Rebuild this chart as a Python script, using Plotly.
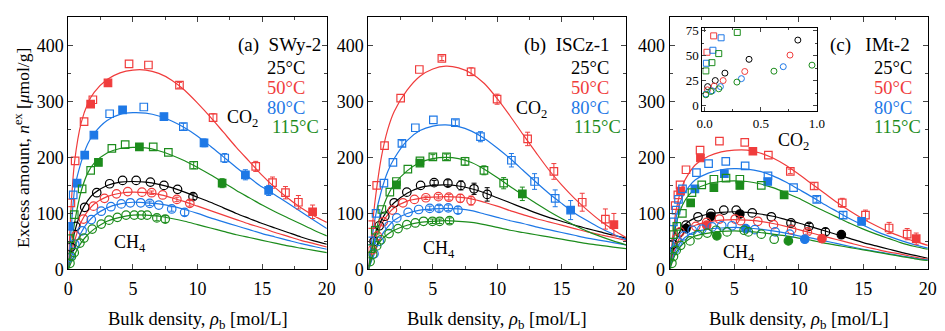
import plotly.graph_objects as go

FONT = "Liberation Serif"
COL = {"25": "#000000", "50": "#f03c3c", "80": "#1e78e6", "115": "#1c8c1c"}

# common density grid on which the fitted curves were read
GRID = [0, 0.25, 0.5, 1, 1.5, 2, 3, 4, 5, 6, 7, 8, 9, 10, 11, 12, 13, 14, 15, 16, 17, 18, 19, 20]

# ---------------- panel (a) SWy-2 : fitted curves ----------------
A_CO2_50_FIT = [0, 125, 195, 262, 296, 316, 339, 351, 356, 356, 350, 338, 320, 297, 272, 245, 218, 193, 168, 146, 127, 110, 96, 84]
A_CO2_80_FIT = [0, 80, 145, 192, 224, 243, 266, 277, 280, 279, 274, 265, 253, 238, 220, 201, 182, 164, 147, 133, 118, 103, 88, 73]
A_CO2_115_FIT = [0, 45, 85, 140, 172, 190, 208, 216, 218, 217, 212, 204, 194, 182, 169, 155, 141, 128, 115, 103, 92, 81, 70, 60]
A_CH4_25_FIT = [0, 40, 68, 103, 123, 136, 150, 156, 157, 156, 152, 146, 138, 129, 120, 110, 100, 91, 82, 74, 66, 58, 51, 45]
A_CH4_50_FIT = [0, 30, 52, 85, 104, 117, 130, 136, 138, 137, 134, 128, 121, 113, 105, 97, 89, 81, 74, 66, 59, 52, 46, 40]
A_CH4_80_FIT = [0, 22, 40, 66, 84, 96, 110, 117, 120, 119, 117, 113, 107, 100, 92, 85, 78, 71, 64, 58, 52, 46, 41, 36]
A_CH4_115_FIT = [0, 14, 27, 48, 62, 72, 86, 93, 97, 97, 95, 91, 86, 80, 74, 68, 62, 57, 52, 47, 42, 38, 34, 30]

# measured points: (density, excess, error, filled)
A_CO2_50_PTS = [(0.2, 119, 0, 0), (0.53, 194, 0, 0), (1.22, 264, 0, 0), (1.73, 295, 0, 1), (1.9, 303, 0, 0),
                (3.07, 333, 0, 1), (4.7, 367, 0, 0), (6.2, 365, 0, 0), (8.6, 329, 5, 0), (11.2, 271, 7, 0),
                (14.5, 184, 9, 0), (15.8, 155, 10, 0), (16.8, 137, 11, 0), (17.8, 120, 12, 0), (18.9, 103, 12, 1)]
A_CO2_80_PTS = [(0.08, 77, 0, 1), (0.38, 133, 0, 0), (0.68, 154, 0, 1), (1.27, 204, 0, 1), (1.98, 240, 0, 1),
                (3.2, 278, 0, 0), (4.2, 285, 0, 1), (5.84, 290, 0, 0), (7.4, 273, 4, 1), (8.9, 255, 6, 0),
                (10.5, 226, 7, 1), (12.1, 199, 8, 0), (13.7, 169, 9, 1), (15.5, 141, 9, 1)]
A_CO2_115_PTS = [(0.13, 55, 0, 0), (0.46, 98, 0, 0), (1.07, 144, 0, 0), (1.73, 177, 0, 0), (2.33, 191, 0, 1),
                 (3.37, 216, 0, 0), (4.4, 223, 0, 0), (5.5, 219, 0, 1), (6.57, 219, 0, 0), (7.74, 209, 0, 0),
                 (9.7, 186, 6, 0), (11.9, 154, 8, 1)]
A_CH4_25_PTS = [(0.2, 40, 0, 0), (0.58, 77, 0, 0), (1.27, 111, 0, 0), (2.2, 137, 0, 0), (3.2, 153, 0, 0),
                (4.2, 159, 0, 0), (5.25, 159, 0, 0), (6.35, 156, 0, 0), (7.4, 150, 0, 0), (8.45, 143, 0, 0),
                (9.65, 130, 5, 0)]
A_CH4_50_PTS = [(0.58, 60, 0, 0), (1.17, 90, 0, 0), (1.95, 113, 0, 0), (2.8, 127, 0, 0), (3.73, 135, 0, 0),
                (4.6, 139, 0, 0), (5.7, 138, 0, 0), (6.45, 137, 3, 0), (7.3, 133, 0, 0), (8.4, 125, 4, 0),
                (9.4, 118, 5, 0)]
A_CH4_80_PTS = [(0.13, 22, 0, 0), (0.5, 45, 0, 0), (1.07, 69, 0, 0), (1.78, 89, 0, 0), (2.55, 104, 0, 0),
                (3.3, 112, 0, 0), (4.1, 117, 0, 0), (4.8, 119, 0, 0), (5.6, 119, 0, 0), (6.3, 118, 4, 0),
                (7.0, 115, 0, 0), (8.0, 108, 4, 0), (9.0, 102, 6, 0)]
A_CH4_115_PTS = [(0.13, 11, 0, 0), (0.25, 23, 0, 0), (0.46, 30, 0, 0), (0.9, 47, 0, 0), (1.22, 56, 0, 0),
                 (1.85, 72, 0, 0), (2.55, 81, 0, 0), (3.15, 88, 0, 0), (3.8, 93, 0, 0), (4.47, 97, 0, 0),
                 (5.1, 97, 0, 0), (5.65, 97, 0, 0), (6.1, 97, 0, 0), (6.85, 92, 5, 0), (7.5, 90, 6, 0)]

# ---------------- panel (b) ISCz-1 ----------------
B_CO2_50_FIT = [0, 65, 120, 200, 250, 282, 320, 345, 358, 363, 360, 350, 332, 305, 274, 241, 209, 178, 151, 127, 106, 87, 71, 57]
B_CO2_80_FIT = [0, 50, 90, 140, 175, 198, 230, 248, 256, 258, 255, 247, 234, 217, 198, 177, 156, 136, 118, 101, 87, 74, 63, 53]
B_CO2_115_FIT = [0, 35, 62, 102, 132, 152, 176, 191, 198, 200, 198, 191, 179, 164, 148, 133, 118, 104, 91, 79, 68, 59, 51, 44]
B_CH4_25_FIT = [0, 35, 60, 88, 106, 119, 136, 146, 150, 151, 149, 144, 137, 128, 119, 110, 101, 93, 86, 79, 73, 67, 61, 56]
B_CH4_50_FIT = [0, 30, 52, 80, 98, 110, 122, 127, 129, 130, 129, 126, 120, 113, 105, 98, 91, 85, 79, 73, 67, 62, 57, 52]
B_CH4_80_FIT = [0, 16, 30, 60, 76, 88, 100, 106, 108, 109, 108, 105, 99, 93, 87, 82, 76, 71, 66, 61, 56, 52, 48, 44]
B_CH4_115_FIT = [0, 20, 35, 53, 63, 70, 79, 84, 86, 87, 86, 84, 80, 75, 70, 66, 62, 58, 54, 50, 46, 43, 40, 37]

B_CO2_50_PTS = [(0.2, 80, 0, 0), (0.64, 150, 0, 0), (1.25, 221, 0, 0), (2.5, 306, 0, 0), (3.95, 357, 0, 0),
                (5.7, 377, 4, 0), (7.97, 353, 7, 0), (9.99, 304, 9, 0), (12.36, 233, 12, 0), (14.4, 175, 14, 0),
                (16.6, 120, 16, 0), (18.4, 90, 18, 0), (19.06, 80, 20, 1)]
B_CO2_80_PTS = [(0.18, 51, 0, 0), (0.59, 100, 0, 0), (1.2, 154, 0, 0), (1.9, 191, 0, 0), (2.6, 225, 5, 0),
                (3.64, 253, 0, 0), (5.04, 267, 0, 0), (6.75, 262, 5, 0), (8.7, 237, 9, 0), (11.1, 195, 12, 0),
                (12.9, 157, 14, 0), (14.5, 127, 15, 0), (15.7, 106, 17, 1)]
B_CO2_115_PTS = [(0.18, 37, 0, 0), (0.53, 70, 0, 0), (1.04, 107, 0, 0), (1.66, 138, 0, 0), (2.17, 157, 0, 0),
                 (2.17, 151, 0, 1), (3.06, 179, 0, 0), (4.0, 194, 0, 0), (4.0, 190, 0, 1), (5.0, 201, 4, 0),
                 (6.06, 201, 5, 0), (7.5, 193, 7, 0), (8.97, 177, 8, 0), (10.5, 154, 10, 0), (11.95, 135, 12, 1)]
B_CH4_25_PTS = [(0.43, 50, 0, 0), (0.84, 78, 0, 0), (1.27, 95, 0, 0), (2.0, 119, 0, 0), (2.98, 138, 0, 0),
                (4.05, 150, 0, 0), (5.1, 155, 4, 0), (6.17, 154, 6, 0), (7.18, 150, 8, 0), (8.2, 144, 10, 0),
                (9.22, 134, 12, 0)]
B_CH4_50_PTS = [(0.3, 35, 0, 0), (0.69, 60, 0, 0), (1.15, 85, 0, 0), (1.86, 106, 0, 0), (2.68, 119, 0, 0),
                (3.57, 125, 0, 0), (4.46, 128, 3, 0), (5.43, 130, 4, 0), (6.24, 129, 5, 0), (7.13, 127, 7, 0),
                (7.97, 123, 8, 0)]
B_CH4_80_PTS = [(0.43, 28, 0, 0), (0.84, 50, 0, 0), (1.6, 78, 0, 0), (2.2, 92, 0, 0), (3.08, 102, 0, 0),
                (3.9, 107, 0, 0), (4.76, 109, 4, 0), (5.48, 109, 5, 0), (6.2, 110, 5, 0), (6.95, 106, 6, 0)]
B_CH4_115_PTS = [(0.13, 14, 0, 0), (0.33, 27, 0, 0), (0.64, 42, 0, 0), (0.97, 53, 0, 0), (1.6, 64, 0, 0),
                 (2.3, 73, 0, 0), (2.98, 80, 0, 0), (3.64, 83, 0, 0), (4.28, 86, 0, 0), (4.97, 86, 4, 0),
                 (5.53, 86, 4, 0), (6.3, 87, 5, 0)]

# ---------------- panel (c) IMt-2 ----------------
C_CO2_50_FIT = [0, 60, 105, 150, 172, 187, 202, 210, 213, 213, 208, 199, 186, 170, 153, 136, 119, 104, 90, 78, 67, 58, 50, 43]
C_CO2_80_FIT = [0, 50, 92, 130, 148, 160, 172, 178, 180, 179, 175, 167, 156, 143, 130, 116, 103, 90, 79, 68, 59, 51, 44, 38]
C_CO2_115_FIT = [0, 42, 80, 115, 133, 143, 153, 157, 158, 157, 153, 146, 137, 127, 115, 104, 93, 82, 72, 63, 55, 47, 41, 36]
C_CH4_25_FIT = [0, 30, 52, 75, 86, 92, 99, 102, 103, 102, 99, 95, 89, 83, 76, 69, 62, 55, 48, 42, 36, 30, 25, 20]
C_CH4_50_FIT = [0, 25, 44, 63, 73, 79, 85, 88, 89, 88, 86, 82, 77, 71, 65, 59, 53, 47, 41, 36, 31, 27, 22, 18]
C_CH4_80_FIT = [0, 20, 36, 53, 62, 67, 72, 74, 75, 74, 72, 69, 65, 60, 56, 51, 46, 41, 36, 32, 28, 24, 20, 17]
C_CH4_115_FIT = [0, 16, 30, 45, 54, 60, 65, 68, 69, 68, 66, 63, 60, 56, 52, 47, 43, 39, 35, 31, 27, 23, 19, 16]

C_CO2_50_PTS = [(0.43, 114, 0, 0), (0.64, 133, 0, 0), (0.81, 151, 0, 0), (0.85, 140, 0, 1), (1.27, 178, 0, 0),
                (2.36, 213, 0, 0), (2.39, 199, 0, 1), (3.86, 229, 0, 0), (5.82, 227, 0, 0), (6.45, 211, 0, 1),
                (7.65, 204, 0, 0), (9.35, 175, 4, 0), (11.2, 149, 6, 0), (13.37, 119, 8, 0), (15.17, 97, 9, 0),
                (17.0, 74, 10, 0), (18.4, 63, 10, 0), (19.1, 55, 10, 1)]
C_CO2_80_PTS = [(0.3, 85, 0, 0), (0.5, 106, 0, 0), (0.69, 125, 0, 0), (1.0, 144, 0, 0), (1.96, 144, 0, 1),
                (2.08, 173, 0, 0), (3.02, 189, 0, 0), (4.35, 193, 0, 0), (4.24, 171, 0, 1), (5.85, 185, 0, 0),
                (7.62, 167, 0, 0), (7.6, 157, 0, 1), (9.6, 146, 0, 0), (11.4, 125, 5, 0), (13.44, 97, 6, 0),
                (14.87, 86, 6, 1)]
C_CO2_115_PTS = [(0.3, 62, 0, 0), (0.56, 77, 0, 0), (0.99, 100, 0, 0), (1.63, 119, 0, 1), (1.73, 137, 0, 0),
                 (2.49, 151, 0, 0), (3.43, 146, 0, 1), (3.43, 161, 0, 0), (4.37, 163, 0, 0), (5.44, 150, 0, 1),
                 (5.44, 161, 0, 0), (7.1, 150, 0, 0), (8.87, 133, 4, 1)]
C_CH4_25_PTS = [(0.25, 45, 0, 0), (0.76, 66, 0, 0), (1.27, 79, 0, 0), (1.27, 73, 0, 1), (2.2, 94, 0, 0),
                (3.2, 95, 0, 1), (3.2, 100, 0, 0), (4.2, 106, 0, 0), (5.16, 106, 0, 0), (5.44, 99, 0, 1),
                (6.4, 101, 0, 0), (7.88, 94, 0, 0), (9.4, 83, 4, 0), (10.8, 77, 5, 0), (12.07, 67, 6, 0),
                (13.3, 62, 6, 1)]
C_CH4_50_PTS = [(0.56, 55, 0, 0), (0.81, 67, 0, 0), (2.03, 77, 0, 0), (2.87, 84, 0, 0), (2.87, 79, 0, 1),
                (3.86, 90, 0, 0), (5.08, 90, 0, 0), (5.5, 87, 0, 0), (6.83, 86, 0, 0), (8.05, 80, 0, 0),
                (9.45, 71, 0, 0), (10.67, 67, 4, 0), (11.8, 55, 6, 1)]
C_CH4_80_PTS = [(0.38, 35, 0, 0), (0.64, 49, 0, 0), (1.1, 60, 0, 0), (1.75, 70, 0, 0), (2.5, 72, 0, 0),
                (3.3, 76, 0, 0), (4.04, 78, 0, 0), (4.83, 78, 0, 0), (5.9, 73, 0, 1), (6.6, 71, 0, 0),
                (8.18, 67, 0, 0), (9.3, 63, 0, 0), (10.47, 54, 4, 1)]
C_CH4_115_PTS = [(0.18, 11, 0, 0), (0.3, 23, 0, 0), (0.51, 34, 0, 0), (0.86, 43, 0, 0), (1.58, 51, 0, 0),
                 (2.2, 62, 0, 0), (2.92, 65, 0, 0), (3.66, 60, 0, 1), (3.6, 70, 0, 0), (4.45, 67, 0, 0),
                 (5.77, 70, 0, 0), (6.1, 67, 0, 0), (7.1, 63, 0, 0), (8.1, 54, 0, 0), (9.2, 51, 4, 1)]

# ---------------- inset of panel (c): low-density region ----------------
INSET_CO2_50 = [(0.02, 53.3), (0.08, 69.6)]
INSET_CO2_80 = [(0.015, 42.4), (0.073, 55.3), (0.146, 67.7)]
INSET_CO2_115 = [(0.01, 34.8), (0.064, 43), (0.125, 52), (0.29, 73)]
INSET_CH4_25 = [(0.026, 19.2), (0.094, 25.2), (0.18, 32.6), (0.395, 46.3), (0.83, 65.4)]
INSET_CH4_50 = [(0.024, 16), (0.085, 19.8), (0.164, 25.2), (0.357, 34.2), (0.76, 50.5)]
INSET_CH4_80 = [(0.01, 11.8), (0.067, 15), (0.14, 19.2), (0.327, 27.1), (0.70, 39)]
INSET_CH4_115 = [(0.01, 11.1), (0.055, 14.4), (0.125, 17), (0.287, 23.7), (0.617, 34.5), (0.956, 40.5)]

PANELS = [
    ("x", "y", "(a)\u00a0\u00a0SWy-2",
     {"25": A_CH4_25_FIT, "50": A_CH4_50_FIT, "80": A_CH4_80_FIT, "115": A_CH4_115_FIT},
     {"50": A_CO2_50_FIT, "80": A_CO2_80_FIT, "115": A_CO2_115_FIT},
     {"25": A_CH4_25_PTS, "50": A_CH4_50_PTS, "80": A_CH4_80_PTS, "115": A_CH4_115_PTS},
     {"50": A_CO2_50_PTS, "80": A_CO2_80_PTS, "115": A_CO2_115_PTS}),
    ("x2", "y2", "(b)\u00a0\u00a0ISCz-1",
     {"25": B_CH4_25_FIT, "50": B_CH4_50_FIT, "80": B_CH4_80_FIT, "115": B_CH4_115_FIT},
     {"50": B_CO2_50_FIT, "80": B_CO2_80_FIT, "115": B_CO2_115_FIT},
     {"25": B_CH4_25_PTS, "50": B_CH4_50_PTS, "80": B_CH4_80_PTS, "115": B_CH4_115_PTS},
     {"50": B_CO2_50_PTS, "80": B_CO2_80_PTS, "115": B_CO2_115_PTS}),
    ("x3", "y3", "(c)\u00a0\u00a0\u00a0IMt-2",
     {"25": C_CH4_25_FIT, "50": C_CH4_50_FIT, "80": C_CH4_80_FIT, "115": C_CH4_115_FIT},
     {"50": C_CO2_50_FIT, "80": C_CO2_80_FIT, "115": C_CO2_115_FIT},
     {"25": C_CH4_25_PTS, "50": C_CH4_50_PTS, "80": C_CH4_80_PTS, "115": C_CH4_115_PTS},
     {"50": C_CO2_50_PTS, "80": C_CO2_80_PTS, "115": C_CO2_115_PTS}),
]

fig = go.Figure()


def add_points(xa, ya, pts, color, shape):
    for filled in (0, 1):
        for has_err in (False, True):
            sel = [p for p in pts if p[3] == filled and (p[2] > 0) == has_err]
            if not sel:
                continue
            sym = shape if filled else shape + "-open"
            tr = dict(
                x=[p[0] for p in sel], y=[p[1] for p in sel], xaxis=xa, yaxis=ya,
                mode="markers", showlegend=False,
                marker=dict(symbol=sym, size=7.5 if shape == "square" else 8.5, color=color,
                            line=dict(color=color, width=1.2)),
            )
            if has_err:
                tr["error_y"] = dict(type="data", array=[p[2] for p in sel], color=color,
                                     thickness=1.0, width=2.5, visible=True)
            fig.add_trace(go.Scatter(**tr))


for xa, ya, label, ch4_fit, co2_fit, ch4_pts, co2_pts in PANELS:
    for t, ys in list(ch4_fit.items()) + list(co2_fit.items()):
        fig.add_trace(go.Scatter(x=GRID, y=ys, xaxis=xa, yaxis=ya, mode="lines",
                                 line=dict(color=COL[t], width=1.2, shape="spline", smoothing=0.8),
                                 showlegend=False, hoverinfo="skip"))
    for t, pts in ch4_pts.items():
        add_points(xa, ya, pts, COL[t], "circle")
    for t, pts in co2_pts.items():
        add_points(xa, ya, pts, COL[t], "square")

for pts, t, sym in [(INSET_CO2_50, "50", "square-open"), (INSET_CO2_80, "80", "square-open"),
                    (INSET_CO2_115, "115", "square-open"), (INSET_CH4_25, "25", "circle-open"),
                    (INSET_CH4_50, "50", "circle-open"), (INSET_CH4_80, "80", "circle-open"),
                    (INSET_CH4_115, "115", "circle-open")]:
    fig.add_trace(go.Scatter(x=[p[0] for p in pts], y=[p[1] for p in pts], xaxis="x4", yaxis="y4",
                             mode="markers", showlegend=False, cliponaxis=True,
                             marker=dict(symbol=sym, size=6, color=COL[t], line=dict(color=COL[t], width=1))))

W, H = 945, 331
BOX = {"": (63.3, 326.0), "2": (368.3, 630.0), "3": (674.3, 936.7)}
TOP, BOT = 13.0, 277.0
tickfont = dict(family=FONT, size=18, color="black")

layout = dict(width=W, height=H, margin=dict(l=0, r=0, t=0, b=0),
              paper_bgcolor="white", plot_bgcolor="white", showlegend=False,
              font=dict(family=FONT, color="black"))
for k, (x0, x1) in BOX.items():
    layout["xaxis" + k] = dict(domain=[x0 / W, x1 / W], anchor="y" + k, range=[0, 20],
                               tickvals=[0, 5, 10, 15, 20], ticks="inside", ticklen=5, tickwidth=1,
                               minor=dict(ticks="inside", dtick=2.5, ticklen=3, tickwidth=1),
                               showline=True, linecolor="black", linewidth=1, mirror="allticks",
                               showgrid=False, zeroline=False, tickfont=tickfont, ticklabelstandoff=3)
    layout["yaxis" + k] = dict(domain=[1 - BOT / H, 1 - TOP / H], anchor="x" + k, range=[0, 450],
                               tickvals=[0, 100, 200, 300, 400], ticks="inside", ticklen=5, tickwidth=1,
                               minor=dict(ticks="inside", dtick=50, ticklen=3, tickwidth=1),
                               showline=True, linecolor="black", linewidth=1, mirror="allticks",
                               showgrid=False, zeroline=False, tickfont=tickfont)

layout["xaxis4"] = dict(domain=[707.7 / W, 824.0 / W], anchor="y4", range=[-0.02, 1.0],
                        tickvals=[0, 0.5, 1.0], ticktext=["0.0", "0.5", "1.0"], ticks="inside", ticklen=4,
                        minor=dict(ticks="inside", dtick=0.25, ticklen=2),
                        showline=True, linecolor="black", linewidth=1, mirror="allticks",
                        showgrid=False, zeroline=False, tickfont=dict(family=FONT, size=13, color="black"))
layout["yaxis4"] = dict(domain=[1 - 111.0 / H, 1 - 24.0 / H], anchor="x4", range=[-5, 77.5],
                        tickvals=[0, 25, 50, 75], ticks="inside", ticklen=4,
                        minor=dict(ticks="inside", dtick=12.5, ticklen=2),
                        showline=True, linecolor="black", linewidth=1, mirror="allticks",
                        showgrid=False, zeroline=False, tickfont=dict(family=FONT, size=13, color="black"))

ann = []
LABEL_POS = {"x": 19.7, "x2": 18.85, "x3": 18.8}
LEG_X = {"x": (15.2, 15.6), "x2": (15.6, 15.8), "x3": (15.7, 15.7)}
CO2_POS = {"x": (13.45, 270), "x2": (12.66, 286), "x3": (9.63, 228)}
CH4_POS = {"x": (4.8, 46), "x2": (5.45, 35), "x3": (5.37, 29)}
for xa, ya, label, *_ in PANELS:
    ann.append(dict(x=LABEL_POS[xa], y=400, xref=xa, yref=ya, text=label, showarrow=False,
                    xanchor="right", yanchor="middle", font=dict(family=FONT, size=19, color="black")))
    for t, yy in [("25", 360), ("50", 324), ("80", 289), ("115", 254)]:
        lx = LEG_X[xa][1] if t == "115" else LEG_X[xa][0]
        ann.append(dict(x=lx, y=yy, xref=xa, yref=ya, text=t + "\u00b0C", showarrow=False,
                        xanchor="left", yanchor="middle", font=dict(family=FONT, size=18.5, color=COL[t])))
    ann.append(dict(x=CO2_POS[xa][0], y=CO2_POS[xa][1], xref=xa, yref=ya, text="CO<sub>2</sub>",
                    showarrow=False, font=dict(family=FONT, size=18, color="black")))
    ann.append(dict(x=CH4_POS[xa][0], y=CH4_POS[xa][1], xref=xa, yref=ya, text="CH<sub>4</sub>",
                    showarrow=False, font=dict(family=FONT, size=18, color="black")))
    dom = layout["xaxis" + xa[1:]]["domain"]
    ann.append(dict(x=(dom[0] + dom[1]) / 2, y=1 - 330.0 / H, xref="paper", yref="paper",
                    text="Bulk density, <i>\u03c1</i><sub>b</sub> [mol/L]", showarrow=False,
                    xanchor="center", yanchor="middle", font=dict(family=FONT, size=18.5, color="black")))

ann.append(dict(x=16.0 / W, y=1 - 150.0 / H, xref="paper", yref="paper", textangle=-90,
                text="Excess amount, <i>n</i><sup>ex</sup> [<i>\u03bc</i>mol/g]", showarrow=False,
                xanchor="center", yanchor="middle", font=dict(family=FONT, size=17.5, color="black")))
layout["annotations"] = ann

fig.update_layout(**layout)
fig.write_html("out.html")
